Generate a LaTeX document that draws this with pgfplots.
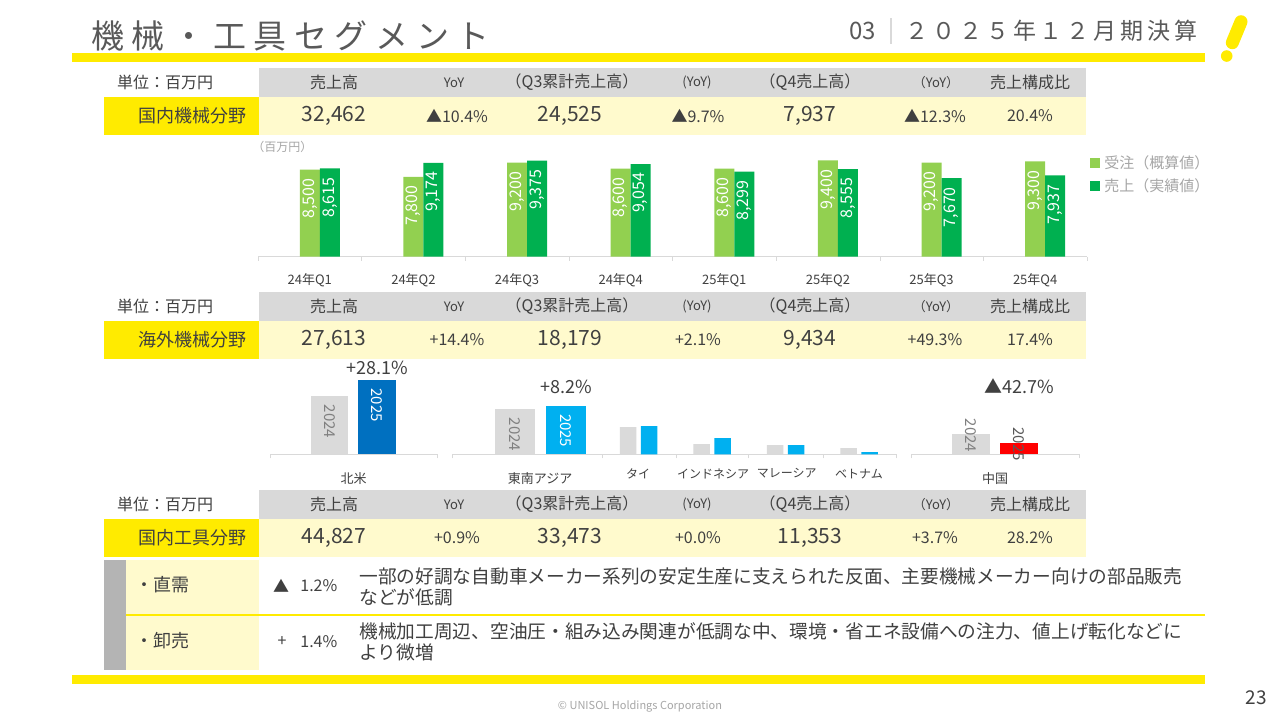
\documentclass[border=0pt]{standalone}
\usepackage{pgfplots}
\pgfplotsset{compat=1.18}
\usepackage{fontspec}
\setmainfont{Noto Sans CJK JP}
\newfontfamily\titlefont[LetterSpace=23]{Noto Sans CJK JP}
\newfontfamily\subfont[LetterSpace=17]{Noto Sans CJK JP}
\newcommand\fs[1]{\fontsize{#1}{#1}\selectfont}
\definecolor{ylw}{HTML}{FFEB00}
\definecolor{lyl}{HTML}{FFFACD}
\definecolor{hdr}{HTML}{D9D9D9}
\definecolor{txt}{HTML}{404040}
\definecolor{ttl}{HTML}{595959}
\definecolor{lgt}{HTML}{A6A6A6}
\definecolor{lgreen}{HTML}{92D050}
\definecolor{dgreen}{HTML}{00B050}
\definecolor{nablue}{HTML}{0070C0}
\definecolor{seablue}{HTML}{00B0F0}
\definecolor{bar24}{HTML}{DADADA}
\definecolor{axgray}{HTML}{D9D9D9}
\definecolor{sidegray}{HTML}{B4B4B4}

\newcommand\tablerow[9]{%
 \fill[hdr] (259,#1) rectangle (1086,#1+29);
 \node[anchor=west,text=txt,font=\fs{8}] at (110,#1+14.5) {単位：百万円};
 \node[text=txt,font=\fs{8}] at (334,#1+14.5) {売上高};
 \node[text=txt,font=\fs{6.5}] at (454,#1+14.5) {YoY};
 \node[text=txt,font=\fs{8}] at (572,#1+14.5) {（Q3累計売上高）};
 \node[text=txt,font=\fs{6.5}] at (697,#1+14.5) {(YoY)};
 \node[text=txt,font=\fs{8}] at (810,#1+14.5) {（Q4売上高）};
 \node[text=txt,font=\fs{6.5}] at (936,#1+14.5) {（YoY）};
 \node[text=txt,font=\fs{8}] at (1030,#1+14.5) {売上構成比};
 \fill[ylw] (104,#1+29) rectangle (259,#1+67);
 \fill[lyl] (259,#1+29) rectangle (1086,#1+67);
 \node[anchor=east,text=txt,font=\fs{9}] at (254,#1+48) {#2};
 \node[text=txt,font=\fs{10.5}] at (334,#1+48) {#3};
 \node[text=txt,font=\fs{8}] at (457,#1+48) {#4};
 \node[text=txt,font=\fs{10.5}] at (570,#1+48) {#5};
 \node[text=txt,font=\fs{8}] at (698,#1+48) {#6};
 \node[text=txt,font=\fs{10.5}] at (810,#1+48) {#7};
 \node[text=txt,font=\fs{8}] at (935,#1+48) {#8};
 \node[text=txt,font=\fs{8}] at (1030,#1+48) {#9};
}

\pgfplotsset{
 ov/.style={scale only axis, anchor=south west, height=42.5pt, ymin=0, ymax=17000,
  axis y line=none, axis x line*=bottom, x axis line style={draw=axgray,-},
  ytick=\empty, major tick length=0pt, minor tick length=2pt, tick align=outside,
  tick style={draw=axgray},
  xticklabel style={font=\fs{6.5}, text=txt, inner sep=0pt, anchor=north},
  ybar, clip=false,
  every node near coord/.style={rotate=-90, anchor=west, inner sep=0pt, inner xsep=4pt, font=\fs{7.5}, text=gray}},
 pct/.style={draw=none, fill=none, bar shift=0pt,
  every node near coord/.style={anchor=center, inner sep=0pt, font=\fs{9}, text=txt, yshift=#1}},
}

\begin{document}
\begin{tikzpicture}[x=0.5pt,y=-0.5pt]
\fill[white] (0,0) rectangle (1280,720);
% header
\node[anchor=west,text=ttl,font=\titlefont\fs{16.5},inner sep=0pt] at (91,36) {機械・工具セグメント};
\node[anchor=west,text=ttl,font=\fs{12},inner sep=0pt] at (849,31) {03};
\draw[axgray,line width=0.6pt] (891,18) -- (891,44);
\node[anchor=west,text=ttl,font=\subfont\fs{11.5},inner sep=0pt] at (905,31) {２０２５年１２月期決算};
\fill[ylw] (72,53) rectangle (1205,62);
\draw[ylw,line width=6.5pt,line cap=round] (1241,21.7) -- (1232.3,42.7);
\fill[ylw] (1226.7,56) circle (5.8);

% tables
\tablerow{68}{国内機械分野}{32,462}{▲10.4\%}{24,525}{▲9.7\%}{7,937}{▲12.3\%}{20.4\%}
\tablerow{292}{海外機械分野}{27,613}{+14.4\%}{18,179}{+2.1\%}{9,434}{+49.3\%}{17.4\%}
\tablerow{490}{国内工具分野}{44,827}{+0.9\%}{33,473}{+0.0\%}{11,353}{+3.7\%}{28.2\%}

% chart 1
\coordinate (c1) at (258,256.7);
\node[anchor=west,text=lgt,font=\fs{6},inner sep=0pt] at (252,147) {（百万円）};
\begin{axis}[at={(c1)}, anchor=south west, scale only axis, width=414.5pt, height=51.2pt,
 xmin=-0.5, xmax=7.5, ymin=0, ymax=10000,
 axis y line=none, axis x line*=bottom, x axis line style={draw=axgray,-},
 ytick=\empty, xtick={0,...,7},
 xticklabels={24年Q1,24年Q2,24年Q3,24年Q4,25年Q1,25年Q2,25年Q3,25年Q4},
 major tick length=0pt, minor xtick={-0.5,0.5,...,7.5}, minor tick length=2pt, tick align=outside,
 tick style={draw=axgray},
 xticklabel style={font=\fs{6.5}, text=txt, inner sep=0pt, anchor=north, yshift=-8pt},
 ybar, bar width=10pt, clip=false,
 /pgf/number format/.cd, 1000 sep={,}, assume math mode=true, /pgfplots/.cd,
 nodes near coords]
\addplot[fill=lgreen, draw=none, bar shift=0pt,
 every node near coord/.style={rotate=90, anchor=east, inner sep=0pt, inner xsep=4.3pt, font=\fs{8}, text=white}]
 coordinates {(0,8500)(1,7800)(2,9200)(3,8600)(4,8600)(5,9400)(6,9200)(7,9300)};
\addplot[fill=dgreen, draw=none, bar shift=10pt,
 every node near coord/.style={xshift=10pt, rotate=90, anchor=east, inner sep=0pt, inner xsep=4.3pt, font=\fs{8}, text=white}]
 coordinates {(0,8615)(1,9174)(2,9375)(3,9054)(4,8299)(5,8555)(6,7670)(7,7937)};
\end{axis}
\fill[lgreen] (1090,158) rectangle (1100,168);
\node[anchor=west,text=lgt,font=\fs{7.5},inner sep=0pt] at (1104,163) {受注（概算値）};
\fill[dgreen] (1090,181) rectangle (1100,191);
\node[anchor=west,text=lgt,font=\fs{7.5},inner sep=0pt] at (1104,186) {売上（実績値）};

% chart 2
\coordinate (c2a) at (270,454.3);
\coordinate (c2b) at (452,454.3);
\coordinate (c2c) at (911,454.3);
\begin{axis}[ov, at={(c2a)}, width=83.5pt, xmin=270, xmax=437,
 xtick={353.5}, xticklabels={北米}, xticklabel style={yshift=-9pt}, minor xtick={270,437}]
\addplot[fill=bar24, draw=none, bar width=37, bar shift=0pt, nodes near coords={2024}] coordinates {(329.4,11600)};
\addplot[fill=nablue, draw=none, bar width=38, bar shift=0pt, nodes near coords={2025}, every node near coord/.append style={text=white}] coordinates {(377,14860)};
\addplot[pct=6pt, bar width=38, nodes near coords={+28.1\%}] coordinates {(377,14860)};
\end{axis}
\begin{axis}[ov, at={(c2b)}, width=222pt, xmin=452, xmax=896,
 xtick={638,713,786.7,859}, xticklabels={タイ,インドネシア,マレーシア,ベトナム},
 xticklabel style={font=\fs{6}, yshift=-7pt},
 extra x ticks={540}, extra x tick labels={東南アジア},
 extra x tick style={xticklabel style={font=\fs{6.5}, yshift=-2pt}},
 minor xtick={452,601.7,675.7,748,822.7,896}]
\addplot[fill=bar24, draw=none, bar width=40, bar shift=0pt, nodes near coords={2024}] coordinates {(515,9000)};
\addplot[fill=seablue, draw=none, bar width=40, bar shift=0pt, nodes near coords={2025}, every node near coord/.append style={text=white}] coordinates {(566,9740)};
\addplot[pct=9.5pt, bar width=40, nodes near coords={+8.2\%}] coordinates {(566,9740)};
\addplot[fill=bar24, draw=none, bar width=16.5, bar shift=0pt] coordinates {(628,5460)(701.5,2060)(775,1860)(848.5,1260)};
\addplot[fill=seablue, draw=none, bar width=16.5, bar shift=0pt] coordinates {(649,5660)(722.5,3260)(796,1860)(869.5,460)};
\end{axis}
\begin{axis}[ov, at={(c2c)}, width=84pt, xmin=911, xmax=1079,
 xtick={995}, xticklabels={中国}, xticklabel style={yshift=-9pt}, minor xtick={911,1079}]
\addplot[fill=bar24, draw=none, bar width=38, bar shift=0pt, nodes near coords={2024}, every node near coord/.append style={inner xsep=-9pt}] coordinates {(971,4060)};
\addplot[fill=red, draw=none, bar width=38, bar shift=0pt, nodes near coords={2025}, every node near coord/.append style={inner xsep=-13.5pt, text=ttl}] coordinates {(1019,2330)};
\addplot[pct=28pt, bar width=38, nodes near coords={▲42.7\%}] coordinates {(1019,2330)};
\end{axis}

% bottom details
\fill[sidegray] (104,560) rectangle (126,670);
\fill[lyl] (126,560) rectangle (259,614);
\fill[lyl] (126,616) rectangle (259,670);
\draw[ylw,line width=0.6pt] (126,615) -- (1205,615);
\node[anchor=west,text=txt,font=\fs{9},inner sep=0pt] at (135,585) {・直需};
\node[anchor=west,text=txt,font=\fs{9},inner sep=0pt] at (135,641) {・卸売};
\node[text=txt,font=\fs{8},inner sep=0pt] at (281,586) {▲};
\node[anchor=west,text=txt,font=\fs{8},inner sep=0pt] at (300,586) {1.2\%};
\node[text=txt,font=\fs{8},inner sep=0pt] at (282,642) {+};
\node[anchor=west,text=txt,font=\fs{8},inner sep=0pt] at (300,642) {1.4\%};
\node[anchor=west,text=txt,font=\fs{9.35},inner sep=0pt] at (359,576) {一部の好調な自動車メーカー系列の安定生産に支えられた反面、主要機械メーカー向けの部品販売};
\node[anchor=west,text=txt,font=\fs{9.35},inner sep=0pt] at (359,597) {などが低調};
\node[anchor=west,text=txt,font=\fs{9.35},inner sep=0pt] at (359,631) {機械加工周辺、空油圧・組み込み関連が低調な中、環境・省エネ設備への注力、値上げ転化などに};
\node[anchor=west,text=txt,font=\fs{9.35},inner sep=0pt] at (359,652) {より微増};
\fill[ylw] (72,675) rectangle (1205,684);
\node[text=lgt,font=\fs{5.5},inner sep=0pt] at (640,706) {© UNISOL Holdings Corporation};
\node[text=txt,font=\fs{9.5},inner sep=0pt] at (1256,698) {23};
\pgfresetboundingbox
\path[use as bounding box] (0,0) rectangle (1280,720);
\end{tikzpicture}
\end{document}
